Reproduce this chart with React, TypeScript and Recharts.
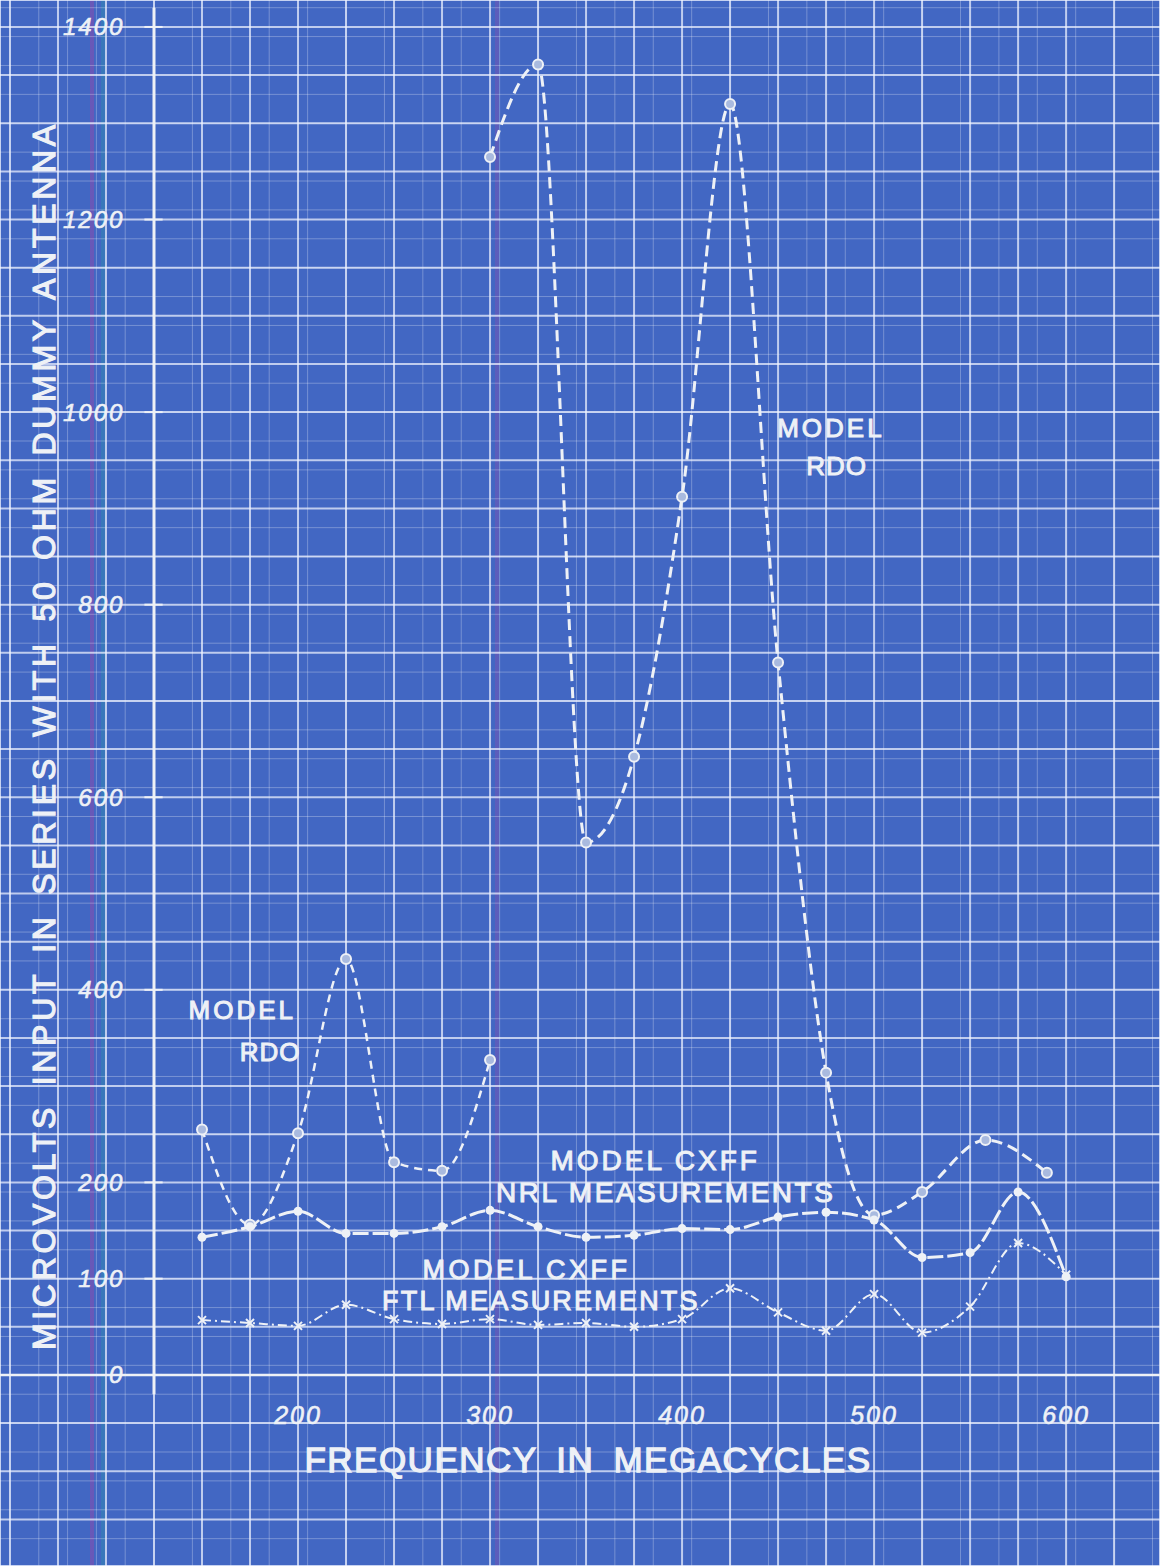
import React from 'react';
import { ComposedChart, Line, XAxis, YAxis, CartesianGrid, ReferenceLine, ReferenceDot } from 'recharts';

const WIDTH = 1160;
const HEIGHT = 1566;
const PAPER = '#4267c3';
const INK = '#eef1f6';
const FONT = '"Liberation Sans", Arial, sans-serif';

// Model RDO, lower band (megacycles / microvolts)
const rdoLowFreq = [150, 175, 200, 225, 250, 275, 300];
const rdoLowUv = [255, 156, 251, 432, 221, 212, 327];

// Model RDO, upper band
const rdoHighFreq = [300, 325, 350, 375, 400, 425, 450, 475, 500, 525, 558, 590];
const rdoHighUv = [1265, 1361, 553, 642, 912, 1320, 740, 314, 166, 190, 244, 210];

// Model CXFF, NRL and FTL measurements
const cxffFreq = [150, 175, 200, 225, 250, 275, 300, 325, 350, 375, 400, 425, 450, 475, 500, 525, 550, 575, 600];
const nrlUv = [143, 154, 170, 147, 147, 154, 171, 154, 143, 145, 152, 151, 164, 169, 161, 122, 127, 190, 102];
const ftlUv = [57, 54, 51, 73, 58, 53, 58, 52, 54, 50, 58, 90, 65, 46, 84, 44, 71, 137, 104];

const xTicks = [200, 300, 400, 500, 600];
const yTicks = [0, 100, 200, 400, 600, 800, 1000, 1200, 1400];

// the sheet runs past the plotted range on every side
const X_DOMAIN = [44.8, 648.9];
const Y_DOMAIN = [-198.4, 1428];
const AXIS_FREQ = 125;

const range = (from: number, to: number, step: number) => {
  const out: number[] = [];
  for (let v = from; v <= to; v += step) out.push(v);
  return out;
};
const majorX = range(50, 645, 25);
const fineX = range(45, 645, 5);
const majorY = range(-150, 1400, 50);
const fineY = range(-190, 1420, 10);

const toPoints = (fs: number[], vs: number[]) => fs.map((f, i) => ({ f, v: vs[i] }));
const rdoLow = toPoints(rdoLowFreq, rdoLowUv);
const rdoHigh = toPoints(rdoHighFreq, rdoHighUv);
const nrl = toPoints(cxffFreq, nrlUv);
const ftl = toPoints(cxffFreq, ftlUv);

const notes = [
  { text: 'MODEL', f: 171, v: 379, size: 26, spacing: 3 },
  { text: 'RDO', f: 185.5, v: 335, size: 26, spacing: 1 },
  { text: 'MODEL', f: 477.5, v: 983, size: 26, spacing: 3 },
  { text: 'RDO', f: 480.5, v: 944, size: 26, spacing: 1 },
  { text: 'MODEL CXFF', f: 386, v: 223, size: 28, spacing: 3 },
  { text: 'NRL MEASUREMENTS', f: 391.5, v: 189, size: 28, spacing: 2.5 },
  { text: 'MODEL CXFF', f: 319, v: 109, size: 27, spacing: 3.5 },
  { text: 'FTL MEASUREMENTS', f: 326.5, v: 77, size: 27, spacing: 2.2 },
];

const textAt = (text: string, size: number, extra: any = {}) => (props: any) => {
  const { viewBox } = props;
  const cx = viewBox.x + (viewBox.width || 0) / 2;
  const cy = viewBox.y + (viewBox.height || 0) / 2;
  const { rotate, ...rest } = extra;
  return (
    <text
      x={cx}
      y={cy}
      textAnchor="middle"
      dominantBaseline="central"
      fill={INK}
      stroke={INK}
      strokeWidth={1}
      fontSize={size}
      fontFamily={FONT}
      transform={rotate ? `rotate(-90 ${cx} ${cy})` : undefined}
      {...rest}
    >
      {text}
    </text>
  );
};

const ringDot = (p: any) => (
  <circle key={`ring-${p.index}-${p.cx}`} cx={p.cx} cy={p.cy} r={5} fill="#a9badf" stroke={INK} strokeWidth={2} />
);
const solidDot = (p: any) => (
  <circle key={`dot-${p.index}`} cx={p.cx} cy={p.cy} r={4.5} fill={INK} />
);
const crossDot = (p: any) => (
  <path
    key={`x-${p.index}`}
    d={`M${p.cx - 4},${p.cy - 4}L${p.cx + 4},${p.cy + 4}M${p.cx + 4},${p.cy - 4}L${p.cx - 4},${p.cy + 4}`}
    stroke={INK}
    strokeWidth={2}
  />
);

// faint coloured streaks of the print
const paperBackground = [
  'linear-gradient(90deg, transparent 90px, rgba(150,70,170,0.45) 90px, rgba(150,70,170,0.45) 94px, transparent 94px)',
  'linear-gradient(90deg, transparent 101px, rgba(40,150,170,0.35) 101px, rgba(40,150,170,0.35) 105px, transparent 105px)',
  'linear-gradient(90deg, transparent 495px, rgba(150,70,170,0.3) 495px, rgba(150,70,170,0.3) 499px, transparent 499px)',
  PAPER,
].join(', ');

const App = () => {
  return (
    <div style={{ position: 'absolute', left: 0, top: 0, width: WIDTH, height: HEIGHT, background: paperBackground, overflow: 'hidden' }}>
      <ComposedChart width={WIDTH} height={HEIGHT} margin={{ top: 0, right: 0, bottom: 0, left: 0 }}>
        <XAxis type="number" dataKey="f" domain={X_DOMAIN} allowDataOverflow ticks={majorX} hide />
        <XAxis xAxisId="fine" type="number" dataKey="f" domain={X_DOMAIN} allowDataOverflow ticks={fineX} hide />
        <YAxis type="number" domain={Y_DOMAIN} allowDataOverflow ticks={majorY} hide />
        <YAxis yAxisId="fine" type="number" domain={Y_DOMAIN} allowDataOverflow ticks={fineY} hide />

        <CartesianGrid xAxisId="fine" yAxisId="fine" stroke="rgba(255,255,255,0.28)" strokeWidth={1} />
        <CartesianGrid stroke="rgba(240,244,255,0.72)" strokeWidth={2} />

        <ReferenceLine y={0} stroke={INK} strokeWidth={2.5} />
        <ReferenceLine segment={[{ x: AXIS_FREQ, y: -20 }, { x: AXIS_FREQ, y: 1420 }]} stroke={INK} strokeWidth={3} />

        {yTicks.map((v) => (
          <ReferenceLine
            key={`yt-${v}`}
            segment={[{ x: AXIS_FREQ - 5, y: v }, { x: AXIS_FREQ + 4.5, y: v }]}
            stroke={INK}
            strokeWidth={2}
            label={{ value: String(v), position: 'left', offset: 20, fill: INK, stroke: INK, strokeWidth: 0.6, fontSize: 24, fontStyle: 'italic', fontFamily: FONT, letterSpacing: 2 }}
          />
        ))}
        {xTicks.map((f) => (
          <ReferenceDot key={`xt-${f}`} x={f} y={-42} r={0} fill="none" stroke="none" label={textAt(String(f), 25, { fontStyle: 'italic', letterSpacing: 2, strokeWidth: 0.6 })} />
        ))}

        <ReferenceDot x={67.5} y={664} r={0} fill="none" stroke="none" label={textAt('MICROVOLTS INPUT IN SERIES WITH 50 OHM DUMMY ANTENNA', 32, { rotate: true, letterSpacing: 3.7, wordSpacing: 6, strokeWidth: 1.2 })} />
        <ReferenceDot x={351} y={-88} r={0} fill="none" stroke="none" label={textAt('FREQUENCY IN MEGACYCLES', 35, { letterSpacing: 1.5, wordSpacing: 8, strokeWidth: 1.3 })} />

        {notes.map((n, i) => (
          <ReferenceDot key={`note-${i}`} x={n.f} y={n.v} r={0} fill="none" stroke="none" label={textAt(n.text, n.size, { letterSpacing: n.spacing })} />
        ))}

        <Line data={rdoLow} dataKey="v" type="monotone" stroke={INK} strokeWidth={2.5} strokeDasharray="8 6" dot={ringDot} activeDot={false} isAnimationActive={false} />
        <Line data={rdoHigh} dataKey="v" type="monotone" stroke={INK} strokeWidth={3} strokeDasharray="11 6" dot={ringDot} activeDot={false} isAnimationActive={false} />
        <Line data={nrl} dataKey="v" type="monotone" stroke={INK} strokeWidth={3} strokeDasharray="16 4" dot={solidDot} activeDot={false} isAnimationActive={false} />
        <Line data={ftl} dataKey="v" type="monotone" stroke={INK} strokeWidth={2} strokeDasharray="9 4 2 4" dot={crossDot} activeDot={false} isAnimationActive={false} />
      </ComposedChart>
    </div>
  );
};

export default App;
